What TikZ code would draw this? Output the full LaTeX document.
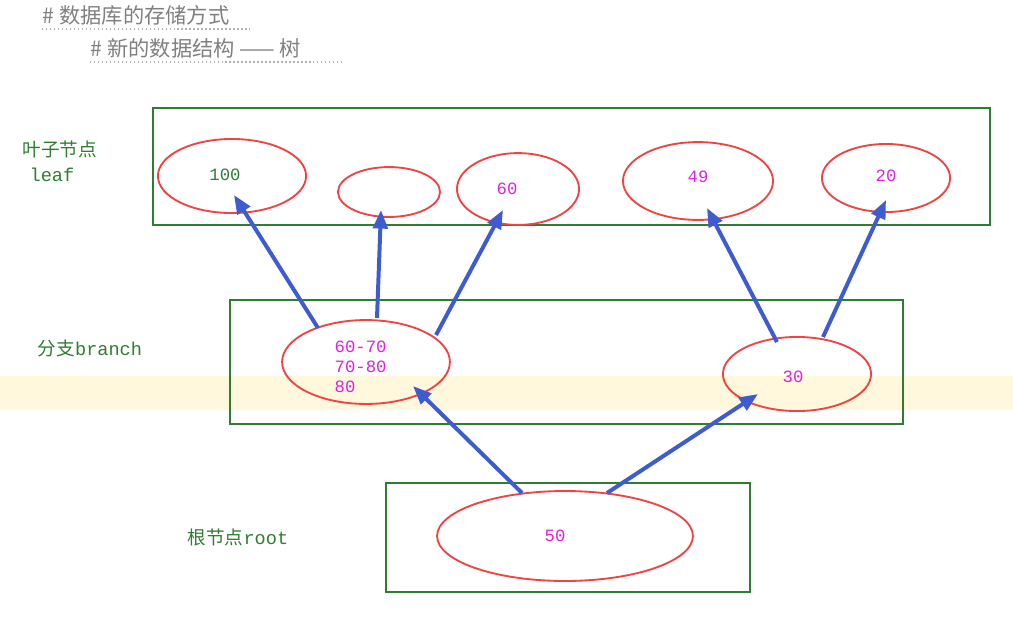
\documentclass[tikz,border=0pt]{standalone}
\usepackage{fontspec}
\newfontfamily\cjk{Noto Sans CJK SC}
\setmonofont{Liberation Mono}
\usetikzlibrary{arrows.meta,shapes.geometric}
\definecolor{boxgreen}{HTML}{2E7D32}
\definecolor{ringred}{HTML}{EE4444}
\definecolor{arrowblue}{HTML}{3F5BD0}
\definecolor{numpink}{HTML}{E020E0}
\definecolor{band}{HTML}{FFF8DC}
\tikzset{
  layer/.style={draw=boxgreen,line width=1.2pt},
  ring/.style={ellipse,draw=ringred,line width=1.4pt,inner sep=0pt},
  tag/.style={text=boxgreen,font=\cjk\fontsize{14}{16}\selectfont},
  num/.style={text=numpink,font=\ttfamily\fontsize{13}{15}\selectfont},
  link/.style={draw=arrowblue,line width=3pt,-{Triangle[length=14pt,width=11pt]}},
}
\begin{document}
\begin{tikzpicture}[x=0.02646cm,y=-0.02646cm]
\useasboundingbox (0,0) rectangle (1013,627);
\fill[band] (0,376) rectangle (1013,410);
% headings
\node[anchor=west,text=gray,font=\cjk\itshape\fontsize{16}{18}\selectfont] (h1) at (38,15) {\# 数据库的存储方式};
\node[anchor=west,text=gray,font=\cjk\itshape\fontsize{16}{18}\selectfont] (h2) at (86,48) {\# 新的数据结构 —— 树};
\draw[gray!60,dotted,line width=1pt] (42,29) -- (250,29);
\draw[gray!60,dotted,line width=1pt] (90,62) -- (345,62);
% layers
\draw[layer] (153,108) rectangle (990,225);
\draw[layer] (230,300) rectangle (903,424);
\draw[layer] (386,483) rectangle (750,592);
\node[tag] (lf1) at (60,149) {叶子节点};
\node[tag,font=\ttfamily\fontsize{14}{16}\selectfont] (lf2) at (52,175) {leaf};
\node[tag] (brl) at (90,348) {分支\texttt{branch}};
\node[tag] (rtl) at (238,537) {根节点\texttt{root}};
% leaves
\node[ring,minimum width=3.92cm,minimum height=1.96cm] (l1) at (232,176) {};
\node[num,text=boxgreen] at (225,175) {100};
\node[ring,minimum width=2.70cm,minimum height=1.32cm] (l2) at (389,192) {};
\node[ring,minimum width=3.23cm,minimum height=1.90cm] (l3) at (518,189) {};
\node[num] at (507,189) {60};
\node[ring,minimum width=3.97cm,minimum height=2.06cm] (l4) at (698,181) {};
\node[num] at (698,177) {49};
\node[ring,minimum width=3.39cm,minimum height=1.80cm] (l5) at (886,178) {};
\node[num] at (886,176) {20};
% branches
\node[ring,minimum width=4.44cm,minimum height=2.22cm] (b1) at (366,362) {};
\node[num,anchor=west,align=left] at (330,367) {60-70\\70-80\\80};
\node[ring,minimum width=3.92cm,minimum height=1.96cm] (b2) at (797,374) {};
\node[num] at (793,377) {30};
% root
\node[ring,minimum width=6.77cm,minimum height=2.38cm] (r) at (565,536) {};
\node[num] at (555,536) {50};
% arrow ends
\coordinate (s1) at (318,328); \coordinate (t1) at (234,195);
\coordinate (s2) at (377,318); \coordinate (t2) at (381,210);
\coordinate (s3) at (436,335); \coordinate (t3) at (503,210);
\coordinate (s4) at (777,342); \coordinate (t4) at (707,208);
\coordinate (s5) at (823,337); \coordinate (t5) at (886,200);
\coordinate (s6) at (522,493); \coordinate (t6) at (413,386);
\coordinate (s7) at (607,493); \coordinate (t7) at (758,394);
\foreach \i in {1,...,7}
  \draw[link] (s\i) -- (t\i);
\end{tikzpicture}
\end{document}
